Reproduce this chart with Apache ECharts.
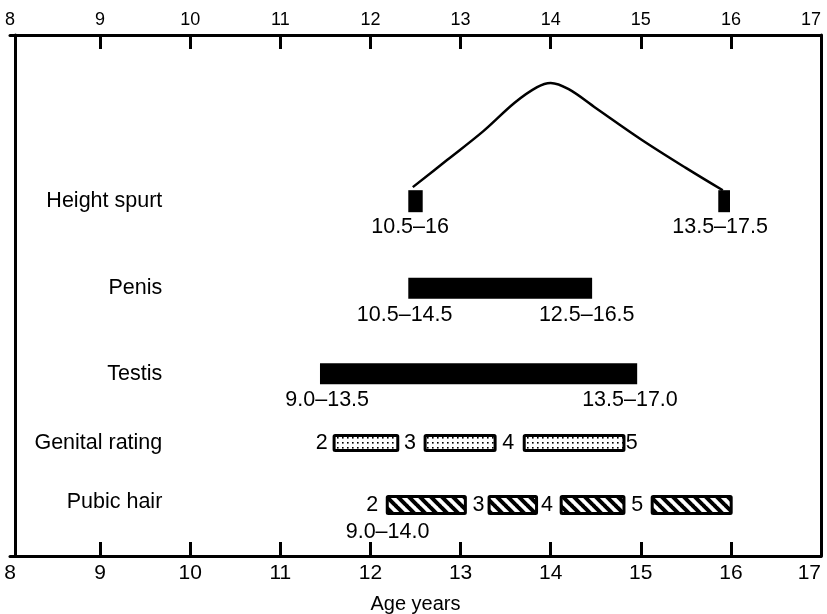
<!DOCTYPE html>
<html><head><meta charset="utf-8">
<script src="https://cdn.jsdelivr.net/npm/echarts@6/dist/echarts.min.js"></script>
<style>html,body{margin:0;padding:0;background:#fff}#c{width:827px;height:614px}</style>
</head><body><div id="c"></div>
<script>
// ---------- data ----------
const ageTicks = [8, 9, 10, 11, 12, 13, 14, 15, 16, 17];
const innerTicks = [9, 10, 11, 12, 13, 14, 15, 16, 17];
const rowNames = ['Height spurt', 'Penis', 'Testis', 'Genital rating', 'Pubic hair'];
const rowLevels = [68.1, 51.4, 35.0, 21.7, 9.8];

const heightCurveAge = [12.47, 12.85, 13.25, 13.60, 13.85, 14.00, 14.20, 14.50, 15.00, 15.50, 15.91];
const heightCurveVal = [70.8, 76.0, 81.5, 87.0, 90.0, 90.8, 89.6, 86.0, 80.0, 74.5, 70.2];

const heightBlocks = [[12.42, 12.58], [15.86, 15.99]];
const penisBar = [12.42, 14.46];
const testisBar = [11.44, 14.96];
const genitalBoxes = [[11.58, 12.32], [12.59, 13.40], [13.69, 14.83]];
const pubicBoxes = [[12.17, 13.07], [13.30, 13.86], [14.10, 14.83], [15.11, 16.02]];

const genitalStageText = ['2', '3', '4', '5'];
const genitalStageAge = [11.46, 12.44, 13.53, 14.90];
const pubicStageText = ['2', '3', '4', '5'];
const pubicStageAge = [12.02, 13.20, 13.96, 14.96];

const rangeText = ['10.5–16', '13.5–17.5', '10.5–14.5', '12.5–16.5', '9.0–13.5', '13.5–17.0', '9.0–14.0'];
const rangeAge  = [12.44, 15.88, 12.38, 14.40, 11.52, 14.88, 12.19];
const rangeVal  = [63.1, 63.1, 46.3, 46.3, 29.9, 29.9, 4.6];

const rowLabelAge = 9.69;

// ---------- patterns ----------
function dotPattern() {
  const c = document.createElement('canvas'); c.width = 5; c.height = 5;
  const g = c.getContext('2d');
  g.fillStyle = '#fff'; g.fillRect(0, 0, 5, 5);
  g.fillStyle = '#000'; g.fillRect(2, 2, 1.6, 1.6);
  return c;
}
function hatchPattern() {
  const s = 11;
  const c = document.createElement('canvas'); c.width = s; c.height = s;
  const g = c.getContext('2d');
  g.fillStyle = '#fff'; g.fillRect(0, 0, s, s);
  g.strokeStyle = '#000'; g.lineWidth = 4;
  for (const k of [-s, 0, s]) { g.beginPath(); g.moveTo(k - 1, -1); g.lineTo(k + s + 1, s + 1); g.stroke(); }
  return c;
}
const dotFill = { image: dotPattern(), repeat: 'repeat' };
const hatchFill = { image: hatchPattern(), repeat: 'repeat' };

// kinds: 0 solid block(height), 1 solid bar, 2 dotted box, 3 hatched box
const kindHeight = [22, 21, 18, 20];
const barData = [];
heightBlocks.forEach(b => barData.push([b[0], b[1], rowLevels[0], 0]));
barData.push([penisBar[0], penisBar[1], rowLevels[1], 1]);
barData.push([testisBar[0], testisBar[1], rowLevels[2], 1]);
genitalBoxes.forEach(b => barData.push([b[0], b[1], rowLevels[3], 2]));
pubicBoxes.forEach(b => barData.push([b[0], b[1], rowLevels[4], 3]));

const FONT = "'Liberation Sans', Arial, Helvetica, sans-serif";

// text items: [age, val, text, align]
const textItems = [];
rowNames.forEach((n, i) => textItems.push([rowLabelAge, rowLevels[i] + (i === 4 ? 0.6 : 0), n, 'right']));
rangeText.forEach((t, i) => textItems.push([rangeAge[i], rangeVal[i], t, 'center']));
genitalStageText.forEach((t, i) => textItems.push([genitalStageAge[i], rowLevels[3], t, 'center']));
pubicStageText.forEach((t, i) => textItems.push([pubicStageAge[i], rowLevels[4], t, 'center']));

const chart = echarts.init(document.getElementById('c'), null, { renderer: 'canvas' });

const xCommon = {
  type: 'value', min: 8, max: 17, interval: 1,
  splitLine: { show: false },
  axisLine: { show: true, onZero: false, lineStyle: { color: '#000', width: 3 } },
  axisTick: { show: true, inside: true, length: 14, customValues: innerTicks, lineStyle: { color: '#000', width: 3 } },
};

chart.setOption({
  animation: false,
  backgroundColor: '#fff',
  grid: { left: 10, right: 6, top: 35, bottom: 58, containLabel: false, outerBoundsMode: 'none' },
  xAxis: [
    Object.assign({}, xCommon, {
      position: 'bottom',
      name: 'Age years', nameLocation: 'middle', nameGap: 38,
      nameTextStyle: { color: '#000', fontSize: 20, fontFamily: FONT },
      axisLabel: { color: '#000', fontSize: 21, fontFamily: FONT, margin: 7, customValues: ageTicks, alignMaxLabel: 'right' }
    }),
    Object.assign({}, xCommon, {
      position: 'top',
      axisLabel: { color: '#000', fontSize: 18, fontFamily: FONT, margin: 6, customValues: ageTicks, alignMaxLabel: 'right' }
    })
  ],
  yAxis: [
    { type: 'value', min: 0, max: 100, position: 'left', offset: -5,
      splitLine: { show: false }, axisTick: { show: false }, axisLabel: { show: false },
      axisLine: { show: true, onZero: false, lineStyle: { color: '#000', width: 3 } } },
    { type: 'value', min: 0, max: 100, position: 'right',
      splitLine: { show: false }, axisTick: { show: false }, axisLabel: { show: false },
      axisLine: { show: true, onZero: false, lineStyle: { color: '#000', width: 3 } } }
  ],
  series: [
    {
      type: 'line', xAxisIndex: 0, yAxisIndex: 0,
      data: heightCurveAge.map((a, i) => [a, heightCurveVal[i]]),
      smooth: 0.35, symbol: 'none',
      lineStyle: { color: '#000', width: 2.5 }
    },
    {
      type: 'custom', xAxisIndex: 0, yAxisIndex: 0,
      data: barData,
      encode: { x: [0, 1], y: 2 },
      renderItem: function (params, api) {
        const k = api.value(3);
        const s = api.coord([api.value(0), api.value(2)]);
        const e = api.coord([api.value(1), api.value(2)]);
        const h = kindHeight[k];
        if (k < 2) {
          return { type: 'rect', shape: { x: s[0], y: s[1] - h / 2, width: e[0] - s[0], height: h },
                   style: { fill: '#000' } };
        }
        const lw = 3;
        return { type: 'rect',
                 shape: { x: s[0] + lw / 2, y: s[1] - h / 2 + lw / 2, width: e[0] - s[0] - lw, height: h - lw, r: 1 },
                 style: { fill: k === 2 ? dotFill : hatchFill, stroke: '#000', lineWidth: lw } };
      }
    },
    {
      type: 'custom', xAxisIndex: 0, yAxisIndex: 0,
      data: textItems.map(t => [t[0], t[1]]),
      encode: { x: 0, y: 1 },
      renderItem: function (params, api) {
        const p = api.coord([api.value(0), api.value(1)]);
        const it = textItems[params.dataIndex];
        return { type: 'text',
                 style: { text: it[2], x: p[0], y: p[1], align: it[3], verticalAlign: 'middle',
                          fill: '#000', font: '21.5px ' + FONT } };
      }
    }
  ]
});
</script>
</body></html>
